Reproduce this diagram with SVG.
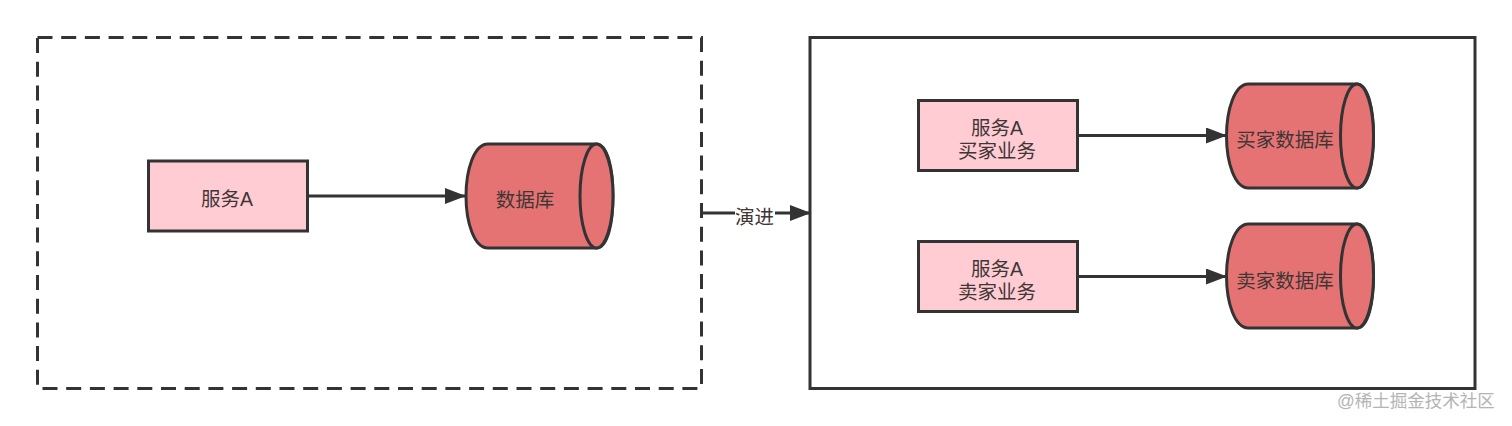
<svg xmlns="http://www.w3.org/2000/svg" width="1512" height="426" viewBox="0 0 1512 426">
<style>
text{font-family:"Liberation Sans","Noto Sans CJK SC",sans-serif;font-size:19.500px;fill:#3f3636;text-anchor:middle}
.box{fill:#ffccd4;stroke:#333;stroke-width:3}
.cyl{fill:#e57373;stroke:#333;stroke-width:3}
.line{fill:none;stroke:#333;stroke-width:3}
</style>
<defs>
<marker id="arrow" markerUnits="userSpaceOnUse" markerWidth="22" markerHeight="16" refX="21" refY="8" orient="auto"><path d="M0 0L21 8L0 16Z" fill="#333"/></marker>
<g id="cyl-shape"><path class="cyl" d="M22 0H130C142 0 147 26 147 52C147 78 142 104 130 104H22C8 104 0 78 0 52C0 26 8 0 22 0Z"/><ellipse class="cyl" cx="130.500" cy="52" rx="16.500" ry="52"/></g>
</defs>
<g id="group-before"><rect x="37.500" y="37.500" width="664" height="351" fill="#fff" stroke="#333" stroke-width="3" stroke-dasharray="15 8.700"/></g>
<g id="group-after"><rect x="810" y="37.500" width="665" height="351" fill="#fff" stroke="#333" stroke-width="3"/></g>
<g id="connectors">
<path class="line" d="M308 196H466" marker-end="url(#arrow)"/>
<path class="line" d="M702 213H811" marker-end="url(#arrow)"/>
<path class="line" d="M1078 135.500H1227" marker-end="url(#arrow)"/>
<path class="line" d="M1078 276.500H1227" marker-end="url(#arrow)"/>
</g>
<g id="label-evolve"><rect x="735" y="203" width="40" height="22" fill="#fff"/><text x="754.500" y="224">演进</text></g>
<g id="service-a"><rect class="box" x="148.500" y="161" width="159" height="70"/><text x="227" y="206">服务A</text></g>
<g id="db"><use href="#cyl-shape" x="466" y="144"/><text x="525" y="206.500">数据库</text></g>
<g id="service-buyer"><rect class="box" x="918.500" y="100.500" width="159" height="70"/><text x="997" y="135">服务A</text><text x="997" y="158">买家业务</text></g>
<g id="db-buyer"><use href="#cyl-shape" x="1226.500" y="84"/><text x="1285" y="146.500">买家数据库</text></g>
<g id="service-seller"><rect class="box" x="918.500" y="241.500" width="159" height="70"/><text x="997" y="276">服务A</text><text x="997" y="299">卖家业务</text></g>
<g id="db-seller"><use href="#cyl-shape" x="1226.500" y="224"/><text x="1285" y="287.500">卖家数据库</text></g>
<text x="1416" y="407" style="font-size:17.500px;fill:#b4b4b4">@稀土掘金技术社区</text>
</svg>
